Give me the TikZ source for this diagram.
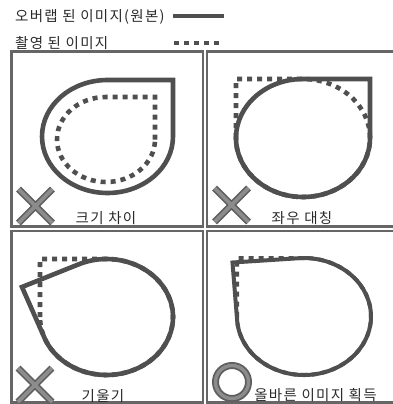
\documentclass[tikz,border=0pt]{standalone}
\usepackage{fontspec}
\newfontfamily\kr[LetterSpace=9]{Noto Sans CJK KR}
\definecolor{shape}{HTML}{4F4F4F}
\definecolor{frame}{HTML}{666666}
\definecolor{markdark}{HTML}{5E5E5E}
\definecolor{marklight}{HTML}{8C8C8C}
\definecolor{txt}{HTML}{2A2A2A}
\tikzset{
  solidline/.style={draw=shape, line width=4.6pt, line join=miter},
  dotline/.style={draw=shape, line width=4.6pt, dash pattern=on 5pt off 5pt},
  panel/.style={draw=frame, line width=2.2pt},
  lbl/.style={text=txt, font=\kr\fontsize{14.5}{16}\selectfont, inner sep=0pt},
}
\begin{document}
\begin{tikzpicture}[x=1pt,y=-1pt]
\useasboundingbox (0,0) rectangle (393,404);
\clip (0,0) rectangle (393,404);
% legend
\node[lbl, anchor=west] (leg1) at (15,17) {오버랩 된 이미지(원본)};
\node[lbl, anchor=west] (leg2) at (15,43) {촬영 된 이미지};
\coordinate (l1a) at (173,16); \coordinate (l1b) at (224,16);
\draw[draw=shape, line width=4pt] (l1a) -- (l1b);
\coordinate (l2a) at (174,43); \coordinate (l2b) at (224,43);
\draw[draw=shape, line width=4.5pt, dash pattern=on 4.5pt off 5.5pt] (l2a) -- (l2b);
% panels
\draw[panel] (11.5,51.5) rectangle (203,226.5);
\draw[panel] (207,51.5) rectangle (400,226.5);
\draw[panel] (11.5,231) rectangle (203,402.5);
\draw[panel] (207,231) rectangle (400,402.5);
% panel 1: size difference
\draw[solidline] (173,136.5) -- (173,80) -- (107.5,80) arc[start angle=-90, end angle=-360, x radius=65.5, y radius=56.5] -- cycle;
\draw[dotline] (155,139.5) -- (155,97) -- (106,97) arc[start angle=-90, end angle=-360, x radius=49, y radius=42.5] -- cycle;
% panel 2: mirror
\draw[solidline] (370,138) -- (370,79) -- (303,79) arc[start angle=-90, end angle=-360, x radius=67, y radius=59] -- cycle;
\draw[dotline] (236,138) -- (236,79) -- (303,79) arc[start angle=-90, end angle=180, x radius=67, y radius=59] -- cycle;
% panel 3: tilt
\draw[dotline] (40,317) -- (40,259) -- (106.5,259) arc[start angle=-90, end angle=180, x radius=66.5, y radius=58] -- cycle;
\draw[solidline] (22,287) -- (78.8,264.3) arc[start angle=245.35, end angle=518.95, x radius=66.5, y radius=58] -- cycle;
% panel 4: correct
\draw[solidline, line width=4pt] (232.5,262.5) -- (299,258.2) arc[start angle=265.73, end angle=535.99, x radius=67, y radius=58.5] -- cycle;
\draw[dotline, line width=4pt] (237,316.5) -- (237,258) -- (304,258) arc[start angle=-90, end angle=180, x radius=67, y radius=58.5] -- cycle;
% X marks
\foreach \cx/\cy in {35.5/206, 231.5/205, 35/385} {
  \draw[markdark, line width=7pt] (\cx-17,\cy-17) -- (\cx+17,\cy+17) (\cx-17,\cy+17) -- (\cx+17,\cy-17);
  \draw[marklight, line width=3.6pt] (\cx-17,\cy-17) -- (\cx+17,\cy+17) (\cx-17,\cy+17) -- (\cx+17,\cy-17);
}
% O mark
\draw[markdark, line width=7pt] (232,382) circle[radius=16.5];
\draw[marklight, line width=3.4pt] (232,382) circle[radius=16.5];
% labels
\node[lbl] (t1) at (106,218) {크기 차이};
\node[lbl] (t2) at (302,218) {좌우 대칭};
\node[lbl] (t3) at (103,396) {기울기};
\node[lbl] (t4) at (315.5,395) {올바른 이미지 획득};
\end{tikzpicture}
\end{document}
